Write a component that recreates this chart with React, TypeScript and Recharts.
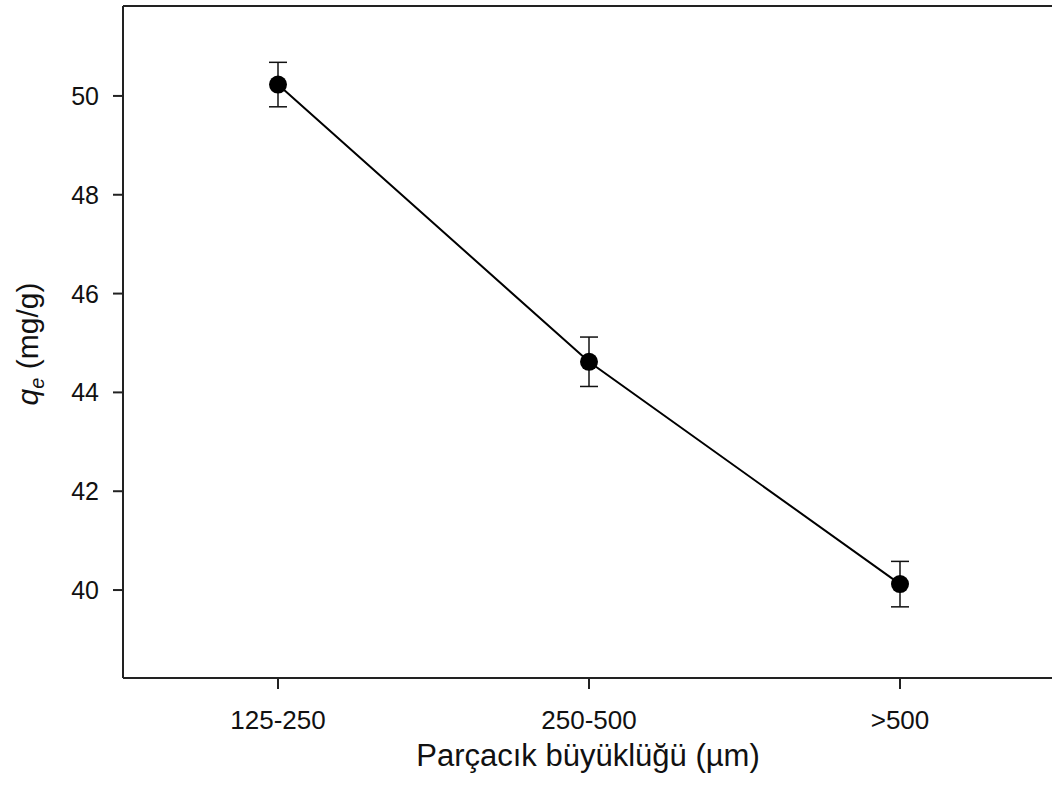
import { ErrorBar, Line, LineChart, ReferenceLine, XAxis, YAxis } from "recharts";

const sizes = ["125-250", "250-500", ">500"];
const qe = [50.23, 44.62, 40.12];
const qeErr = [0.45, 0.5, 0.46];
const yTicks = [40, 42, 44, 46, 48, 50];
const yMin = 38.22;
const yMax = 51.82;

const data = sizes.map((s, i) => ({ size: s, qe: qe[i], err: qeErr[i] }));

const FONT = "Arial, 'Liberation Sans', Helvetica, sans-serif";
const AXIS = "#222";

function XTick(props: any) {
  const { x, y, payload } = props;
  return (
    <text x={x} y={y + 38} textAnchor="middle" fontFamily={FONT} fontSize={26} fill="#111">
      {payload.value}
    </text>
  );
}

function YTick(props: any) {
  const { x, y, payload } = props;
  return (
    <text x={99} y={y + 9} textAnchor="end" fontFamily={FONT} fontSize={25} fill="#111">
      {payload.value}
    </text>
  );
}

function XTitle() {
  return (
    <text x={588} y={766} textAnchor="middle" fontFamily={FONT} fontSize={31} fill="#111">
      Parçacık büyüklüğü (µm)
    </text>
  );
}

function YTitle() {
  const cx = 38;
  const cy = 344;
  return (
    <text
      x={cx}
      y={cy}
      transform={`rotate(-90, ${cx}, ${cy})`}
      textAnchor="middle"
      fontFamily={FONT}
      fontSize={30}
      fill="#111"
    >
      <tspan fontStyle="italic">q</tspan>
      <tspan fontStyle="italic" fontSize={20} dy={6}>e</tspan>
      <tspan dy={-6}> (mg/g)</tspan>
    </text>
  );
}

export default function App() {
  return (
    <div style={{ position: "absolute", left: 0, top: 0, width: 1052, height: 790, overflow: "hidden", background: "#fff" }}>
      <LineChart
        width={1060}
        height={790}
        data={data}
        margin={{ top: 6, right: 5, left: 0, bottom: 0 }}
      >
        <XAxis
          dataKey="size"
          height={112}
          padding={{ left: 155, right: 155 }}
          stroke={AXIS}
          strokeWidth={2}
          tickSize={11}
          tick={<XTick />}
          label={<XTitle />}
        />
        <YAxis
          width={123}
          domain={[yMin, yMax]}
          ticks={yTicks}
          allowDataOverflow
          stroke={AXIS}
          strokeWidth={2}
          tickSize={10}
          tick={<YTick />}
          label={<YTitle />}
        />
        <ReferenceLine y={yMax} stroke={AXIS} strokeWidth={2} ifOverflow="visible" />
        <Line
          dataKey="qe"
          stroke="#000"
          strokeWidth={2}
          dot={{ r: 9, fill: "#000", stroke: "#000", strokeWidth: 0 }}
          activeDot={false}
          isAnimationActive={false}
        >
          <ErrorBar dataKey="err" width={9} stroke="#111" strokeWidth={1.5} direction="y" />
        </Line>
      </LineChart>
    </div>
  );
}
